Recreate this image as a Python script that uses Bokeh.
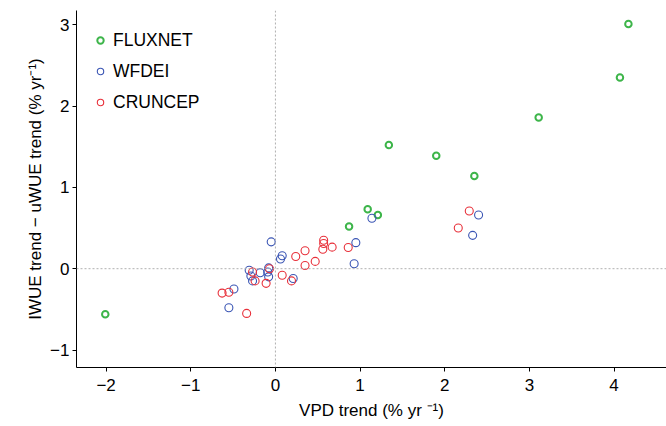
from bokeh.plotting import figure
from bokeh.models import Span, FixedTicker, Range1d
from bokeh.embed import file_html
from bokeh.resources import INLINE

# FLUXNET
flux_x = [-2.01, 4.17, 4.07, 3.11, 1.34, 1.90, 2.35, 1.09, 1.21, 0.87]
flux_y = [-0.56, 3.01, 2.35, 1.86, 1.52, 1.39, 1.14, 0.73, 0.66, 0.52]

# WFDEI
wfdei_x = [2.40, 2.33, 1.14, 0.95, 0.93, 0.21, 0.08, 0.06, -0.05, -0.08,
           -0.09, -0.08, -0.18, -0.31, -0.29, -0.27, -0.49, -0.55]
wfdei_y = [0.66, 0.41, 0.62, 0.32, 0.06, -0.12, 0.16, 0.12, 0.33, 0.01,
           -0.04, -0.10, -0.05, -0.02, -0.09, -0.15, -0.25, -0.48]

# CRUNCEP
cru_x = [2.29, 2.16, 0.86, 0.67, 0.57, 0.57, 0.56, 0.35, 0.47, 0.35,
         0.24, 0.08, 0.19, -0.07, -0.27, -0.24, -0.11, -0.63, -0.55, -0.34]
cru_y = [0.71, 0.50, 0.26, 0.265, 0.35, 0.31, 0.24, 0.22, 0.09, 0.04,
         0.15, -0.08, -0.15, 0.00, -0.04, -0.15, -0.18, -0.30, -0.29, -0.55]

x_ticks = [-2, -1, 0, 1, 2, 3, 4]
y_ticks = [-1, 0, 1, 2, 3]

FONT = "Liberation Sans"

p = figure(width=666, height=422, output_backend="svg", toolbar_location=None,
           x_range=Range1d(-2.35, 4.62), y_range=Range1d(-1.215, 3.175),
           min_border_left=76, min_border_right=0, min_border_top=10, min_border_bottom=0)

p.grid.visible = False
p.outline_line_color = None
p.background_fill_color = "white"

p.add_layout(Span(location=0, dimension="height", line_color="#b0b0b0",
                  line_width=1, line_dash="2 2"))
p.add_layout(Span(location=0, dimension="width", line_color="#b0b0b0",
                  line_width=1, line_dash="2 2"))

p.scatter(flux_x, flux_y, size=6.5, marker="circle", fill_color=None,
          line_color="#3DB54A", line_width=2, legend_label="FLUXNET")
p.scatter(wfdei_x, wfdei_y, size=8, marker="circle", fill_color=None,
          line_color="#3A55B4", line_width=1.1, legend_label="WFDEI")
p.scatter(cru_x, cru_y, size=8, marker="circle", fill_color=None,
          line_color="#E8303A", line_width=1.1, legend_label="CRUNCEP")

for ax in (p.xaxis[0], p.yaxis[0]):
    ax.axis_line_color = "black"
    ax.axis_line_width = 1
    ax.major_tick_line_color = "black"
    ax.major_tick_out = 4
    ax.major_tick_in = 0
    ax.minor_tick_line_color = None
    ax.major_label_text_font = FONT
    ax.major_label_text_font_size = "17px"
    ax.major_label_text_color = "black"
    ax.axis_label_text_font = FONT
    ax.axis_label_text_font_size = "17px"
    ax.axis_label_text_font_style = "normal"
    ax.axis_label_text_color = "black"

p.xaxis.ticker = FixedTicker(ticks=x_ticks)
p.yaxis.ticker = FixedTicker(ticks=y_ticks)
p.xaxis.major_label_overrides = {t: str(t).replace("-", "\u2212") for t in x_ticks}
p.yaxis.major_label_overrides = {t: str(t).replace("-", "\u2212") for t in y_ticks}
p.xaxis.major_label_standoff = 7
p.yaxis.major_label_standoff = 3
p.xaxis.axis_label_standoff = 7
p.yaxis.axis_label_standoff = 2
p.yaxis.major_label_orientation = "horizontal"

p.xaxis.axis_label = "VPD trend (% yr \u207b\u00b9)"
p.yaxis.axis_label = "IWUE trend \u2212 uWUE trend (% yr\u207b\u00b9)"

lg = p.legend[0]
lg.location = "top_left"
lg.border_line_alpha = 0
lg.background_fill_alpha = 0
lg.padding = 6
lg.margin = 10
lg.glyph_width = 16
lg.glyph_height = 28
lg.label_height = 28
lg.spacing = 3
lg.label_standoff = 5
lg.label_text_font = FONT
lg.label_text_font_size = "17.5px"
lg.label_text_color = "black"

open("out.html", "w").write(file_html(p, INLINE))
